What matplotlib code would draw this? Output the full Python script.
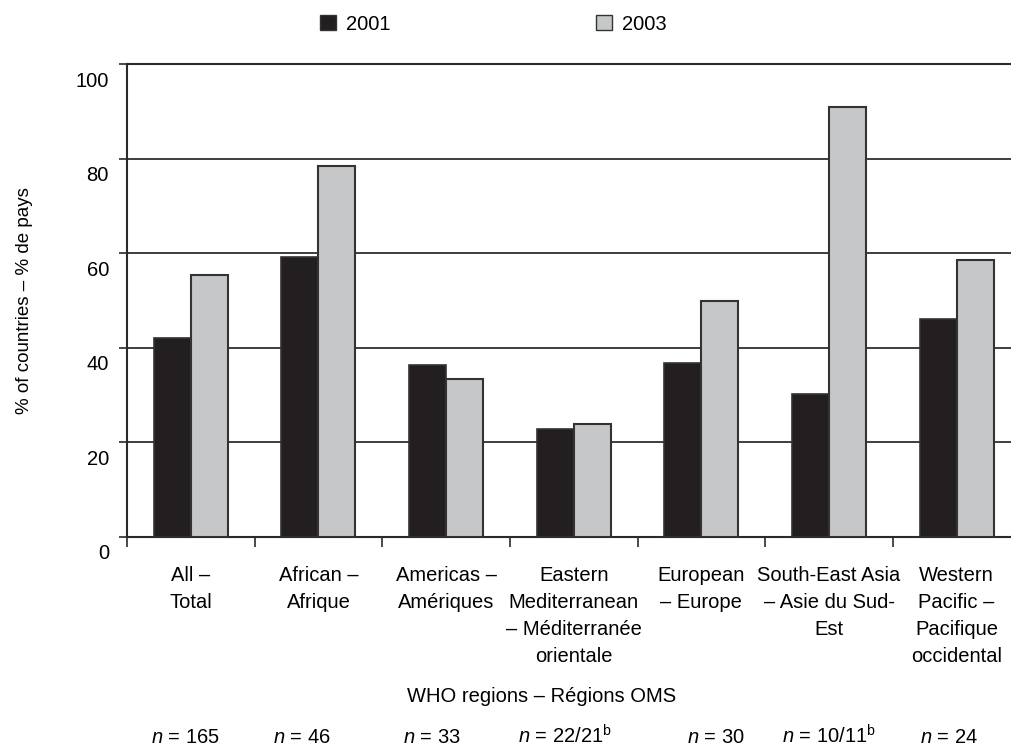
import matplotlib.pyplot as plt
import matplotlib.transforms as mtransforms
from matplotlib.patches import Patch
import numpy as np

plt.rcParams['font.family'] = ['Liberation Sans', 'DejaVu Sans']
plt.rcParams['mathtext.fontset'] = 'custom'
plt.rcParams['mathtext.rm'] = 'Liberation Sans'
plt.rcParams['mathtext.it'] = 'Liberation Sans:italic'

regions = ['All –\nTotal', 'African –\nAfrique', 'Americas –\nAmériques',
           'Eastern\nMediterranean\n– Méditerranée\norientale',
           'European\n– Europe', 'South-East Asia\n– Asie du Sud-\nEst',
           'Western\nPacific –\nPacifique\noccidental']
vals_2001 = [42.1, 59.1, 36.4, 22.8, 36.8, 30.2, 46.1]
vals_2003 = [55.3, 78.5, 33.3, 23.8, 49.9, 91.0, 58.5]
n_labels = ['$n$ = 165', '$n$ = 46', '$n$ = 33', '$n$ = 22/21$^{\\mathrm{b}}$',
            '$n$ = 30', '$n$ = 10/11$^{\\mathrm{b}}$', '$n$ = 24']
yticks = [0, 20, 40, 60, 80, 100]

black = '#231f20'
grey = '#c6c7c9'
edge = '#333333'

fig = plt.figure(figsize=(10.11, 7.49), dpi=100)
ax = fig.add_axes([0.1256, 0.2837, 0.8838, 0.6306])

x = np.arange(len(regions))
w = 0.29
ax.bar(x - w / 2, vals_2001, w, color=black, edgecolor=edge, linewidth=1.2, zorder=3, label='2001')
ax.bar(x + w / 2, vals_2003, w, color=grey, edgecolor=edge, linewidth=1.5, zorder=3, label='2003')

ax.set_xlim(-0.5, len(regions) - 0.5)
ax.set_ylim(0, 100)
ax.set_yticks(yticks)
ax.yaxis.grid(True, color='#2e2e2e', linewidth=1.3, zorder=0)
ax.set_axisbelow(True)

ax.spines['right'].set_visible(False)
for s in ['left', 'top', 'bottom']:
    ax.spines[s].set_color('#2a2a2a')
    ax.spines[s].set_linewidth(1.5)

ax.tick_params(axis='y', length=6, width=1.2, color='#2a2a2a', labelsize=14.5, pad=7)
# y labels sit a bit below their gridlines
off = mtransforms.ScaledTranslation(0, -15 / 100, fig.dpi_scale_trans)
for lab in ax.get_yticklabels():
    lab.set_transform(lab.get_transform() + off)

# x ticks between groups, labels in group centres
ax.set_xticks(np.arange(len(regions) + 1) - 0.5)
ax.set_xticklabels([])
ax.tick_params(axis='x', length=7, width=1.2, direction='out', color='#2a2a2a')
ax.set_xticks(x, minor=True)
ax.set_xticklabels(regions, minor=True, fontsize=14.5, ha='center', va='top')
for lab in ax.get_xticklabels(minor=True):
    lab.set_linespacing(1.55)
ax.tick_params(axis='x', which='minor', length=0, pad=21)

ax.set_ylabel('% of countries – % de pays', fontsize=13.5)
ax.yaxis.set_label_coords(-0.105, 0.5)

fig.text(542 / 1011, 1 - 696 / 749, 'WHO regions – Régions OMS', fontsize=14.5, ha='center', va='center')
n_x = [185, 302, 432, 565, 716, 829, 949]
for xp, t in zip(n_x, n_labels):
    fig.text(xp / 1011, 6 / 749, t, fontsize=14.5, ha='center', va='baseline')

handles = [Patch(facecolor=black, edgecolor=edge, label='2001'),
           Patch(facecolor=grey, edgecolor=edge, label='2003')]
fig.legend(handles=handles, loc='center', bbox_to_anchor=(0.488, 1 - 24 / 749), ncol=2,
           frameon=False, fontsize=14.5, handlelength=0.8, handleheight=0.8,
           handletextpad=0.5, columnspacing=10.2)

fig.savefig('out.png', dpi=100)
